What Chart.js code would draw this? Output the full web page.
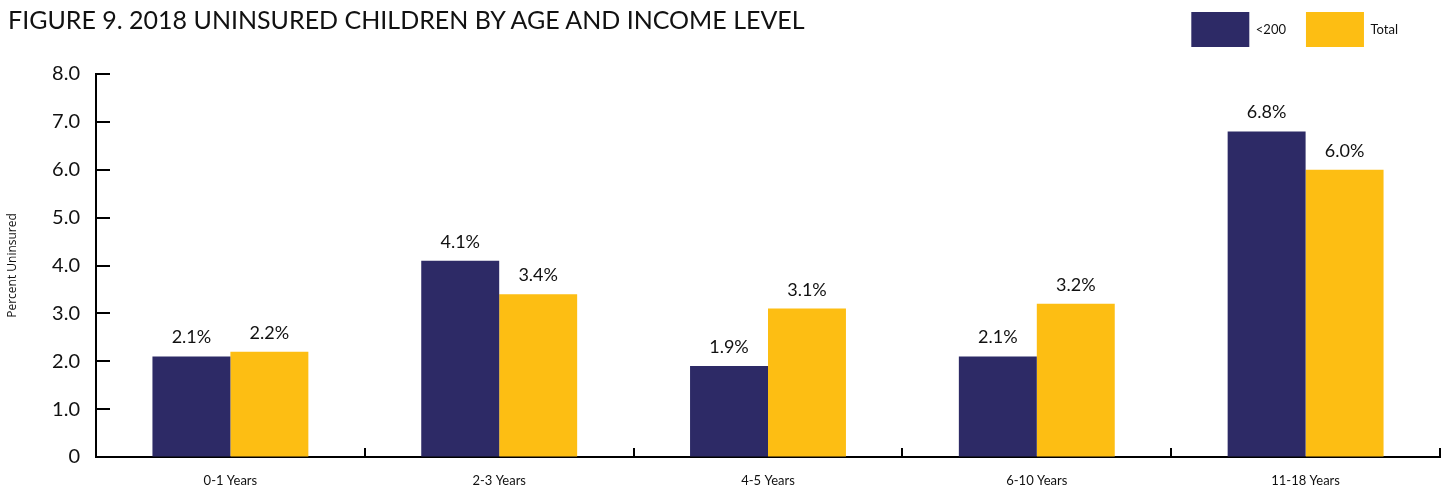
<!DOCTYPE html>
<html>
<head>
<meta charset="utf-8">
<script src="https://cdn.jsdelivr.net/npm/chart.js@4.4.1/dist/chart.umd.min.js"></script>
<style>
  html, body { margin: 0; padding: 0; background: #fff; overflow: hidden; }
  #wrap { position: absolute; left: 0; top: -8px; width: 1449px; height: 495px; }
  #title { position: absolute; left: 8px; top: 4px; font-family: Lato, sans-serif; font-size: 25px; color: #111; white-space: nowrap; }
</style>
</head>
<body>
<div id="wrap"><canvas id="c" width="1449" height="495"></canvas></div>
<div id="title">FIGURE 9. 2018 UNINSURED CHILDREN BY AGE AND INCOME LEVEL</div>
<script>
const categories = ['0-1 Years', '2-3 Years', '4-5 Years', '6-10 Years', '11-18 Years'];
const seriesNames = ['<200', 'Total'];
const below200 = [2.1, 4.1, 1.9, 2.1, 6.8];
const total = [2.2, 3.4, 3.1, 3.2, 6.0];
const yTicks = [0, 1, 2, 3, 4, 5, 6, 7, 8];
const colors = ['#2D2A66', '#FDBE13'];

const valueLabels = {
  id: 'valueLabels',
  afterDatasetsDraw(chart) {
    const ctx = chart.ctx;
    ctx.save();
    ctx.font = '18px Lato, sans-serif';
    ctx.fillStyle = '#111';
    ctx.textAlign = 'center';
    ctx.textBaseline = 'alphabetic';
    chart.data.datasets.forEach((ds, i) => {
      chart.getDatasetMeta(i).data.forEach((bar, j) => {
        ctx.fillText(ds.data[j].toFixed(1) + '%', bar.x, bar.y - 13);
      });
    });
    ctx.restore();
  }
};

const innerTicks = {
  id: 'innerTicks',
  beforeLayout(chart) {
    const lg = chart.legend;
    if (lg && !lg._patched) {
      const origFit = lg.fit;
      lg.fit = function () { origFit.call(this); this.height += 17; };
      lg._patched = true;
    }
  },
  afterLayout(chart) {
    chart.legend.left -= 22;
    chart.legend.right -= 22;
  },
  afterDraw(chart) {
    const ctx = chart.ctx;
    const ys = chart.scales.y, xs = chart.scales.x;
    const area = chart.chartArea;
    ctx.save();
    ctx.strokeStyle = '#000';
    ctx.lineWidth = 2;
    ctx.beginPath();
    yTicks.forEach(v => {
      if (v === 0) return;
      const y = Math.round(ys.getPixelForValue(v));
      ctx.moveTo(area.left, y);
      ctx.lineTo(area.left + 14, y);
    });
    for (let i = 1; i <= categories.length; i++) {
      const x = Math.round(xs.getPixelForValue(i - 0.5));
      ctx.moveTo(x, area.bottom);
      ctx.lineTo(x, area.bottom - 9);
    }
    ctx.stroke();
    ctx.restore();
  }
};

new Chart(document.getElementById('c'), {
  type: 'bar',
  data: {
    labels: categories,
    datasets: [
      { label: seriesNames[0], data: below200, backgroundColor: colors[0], borderWidth: 0 },
      { label: seriesNames[1], data: total, backgroundColor: colors[1], borderWidth: 0 }
    ]
  },
  options: {
    responsive: false,
    animation: false,
    layout: { padding: { left: 0, right: 9, top: 0, bottom: 0 } },
    datasets: { bar: { barPercentage: 1.0, categoryPercentage: 0.58 } },
    plugins: {
      tooltip: { enabled: false },
      title: { display: false },
      legend: {
        position: 'top',
        align: 'end',
        labels: {
          boxWidth: 58,
          boxHeight: 35,
          padding: 20,
          color: '#111',
          font: { family: 'Lato, sans-serif', size: 13 }
        }
      }
    },
    scales: {
      x: {
        offset: true,
        grid: { display: true, drawOnChartArea: false, drawTicks: false, offset: true },
        border: { display: true, color: '#000', width: 2 },
        ticks: { color: '#111', font: { family: 'Lato, sans-serif', size: 13 }, padding: 16, maxRotation: 0, autoSkip: false },
        afterFit(s) { s.height = 30; }
      },
      y: {
        min: 0,
        max: 8,
        grid: { display: true, drawOnChartArea: false, drawTicks: false },
        border: { display: true, color: '#000', width: 2 },
        ticks: {
          stepSize: 1,
          padding: 16,
          color: '#111',
          font: { family: 'Lato, sans-serif', size: 20 },
          callback: v => v === 0 ? '0' : v.toFixed(1)
        },
        title: {
          display: true,
          text: 'Percent Uninsured',
          color: '#111',
          font: { family: '"Open Sans", sans-serif', size: 12 },
          padding: { top: 5, bottom: 0 }
        },
        afterFit(s) { s.width = 96; }
      }
    }
  },
  plugins: [valueLabels, innerTicks]
});
</script>
</body>
</html>
